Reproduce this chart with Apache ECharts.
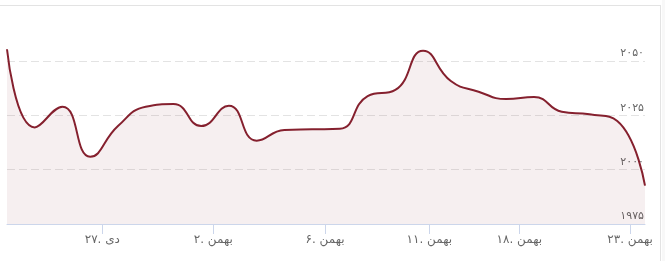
<!DOCTYPE html>
<html>
<head>
<meta charset="utf-8">
<script src="https://cdn.jsdelivr.net/npm/echarts@6/dist/echarts.min.js"></script>
<style>
  html, body { margin: 0; padding: 0; background: #fff; }
  #wrap { position: relative; width: 665px; height: 261px; overflow: hidden; }
  #frame { position: absolute; left: -1px; top: 5px; width: 662px; height: 300px;
           border-top: 1px solid #e3e3e3; border-right: 1px solid #e3e3e3; box-sizing: border-box; }
  #side { position: absolute; left: 662px; top: 0; width: 3px; height: 261px; background: #f8f8f8; }
  #chart { position: absolute; left: 0; top: 0; width: 665px; height: 261px; }
</style>
</head>
<body>
<div id="wrap">
  <div id="frame"></div>
  <div id="side"></div>
  <div id="chart"></div>
</div>
<script>
// Values per trading day (index 0..23)
const values = [2055.3, 2019.4, 2028.9, 2005.9, 2020.0, 2028.9, 2030.1, 2020.0, 2029.4, 2013.3,
                2018.2, 2018.5, 2018.8, 2033.8, 2036.6, 2054.6, 2040.7, 2035.8, 2032.4, 2033.4,
                2026.6, 2025.4, 2022.3, 1992.6];
// x-axis tick positions (in trading-day index units) and their labels
const tickPositions = [3.436, 7.437, 11.464, 15.224, 18.469, 22.46];
const tickLabels = ['۲۷. دی', '۲. بهمن', '۶. بهمن', '۱۱. بهمن', '۱۸. بهمن', '۲۳. بهمن'];
// y-axis ticks
const yMin = 1975, yMax = 2062.5, yStep = 25;

const faDigits = '۰۱۲۳۴۵۶۷۸۹';
function toFa(n) { return String(n).replace(/[0-9]/g, d => faDigits[+d]); }

const seriesData = values.map((v, i) => [i, v]);

const chart = echarts.init(document.getElementById('chart'), null, { renderer: 'canvas' });
chart.setOption({
  animation: false,
  backgroundColor: 'transparent',
  grid: { left: 7, right: 20, top: 33.6, bottom: 37, containLabel: false },
  xAxis: {
    type: 'value',
    min: 0,
    max: values.length - 1,
    splitLine: { show: false },
    axisLine: { show: true, lineStyle: { color: '#ccd6eb', width: 1 } },
    axisTick: { show: true, length: 10, lineStyle: { color: '#ccd6eb' }, customValues: tickPositions },
    axisLabel: {
      customValues: tickPositions,
      margin: 10,
      color: '#666',
      fontSize: 12,
      fontFamily: 'DejaVu Sans',
      formatter: function (v) {
        let best = 0;
        for (let i = 1; i < tickPositions.length; i++) {
          if (Math.abs(tickPositions[i] - v) < Math.abs(tickPositions[best] - v)) best = i;
        }
        return tickLabels[best];
      }
    }
  },
  yAxis: {
    type: 'value',
    position: 'right',
    min: yMin,
    max: yMax,
    interval: yStep,
    axisLine: { show: false },
    axisTick: { show: false },
    splitLine: {
      show: true,
      lineStyle: { color: ['#e3e3e3', '#e3e3e3', '#e3e3e3', '#e3e3e3', 'rgba(0,0,0,0)'], type: [8, 4], width: 1 }
    },
    axisLabel: {
      inside: true,
      margin: 1,
      align: 'right',
      verticalAlign: 'bottom',
      padding: [0, 0, 2, 0],
      color: '#666',
      fontSize: 11,
      fontFamily: 'DejaVu Sans',
      formatter: function (v) { return (v % yStep === 0) ? toFa(v) : ''; }
    }
  },
  series: [{
    type: 'line',
    data: seriesData,
    smooth: 0.5,
    showSymbol: false,
    symbol: 'none',
    lineStyle: { color: '#85202e', width: 2 },
    areaStyle: { color: 'rgba(133,32,46,0.1)', origin: 'start' },
    z: 1
  }]
});
</script>
</body>
</html>
